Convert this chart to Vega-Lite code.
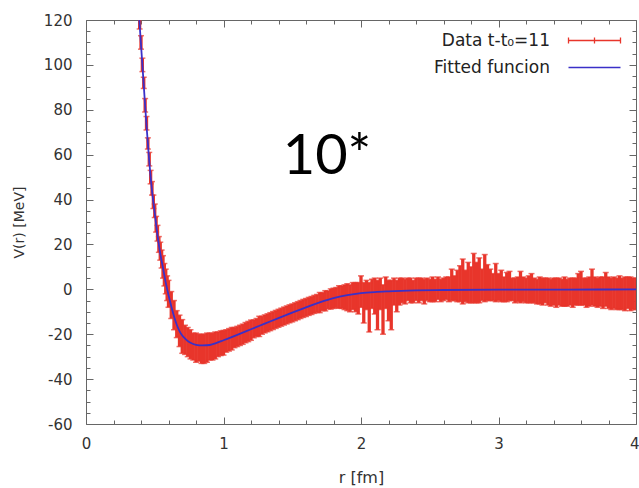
{
  "$schema": "https://vega.github.io/schema/vega-lite/v6.json",
  "width": 550,
  "height": 404,
  "autosize": {"type": "none"},
  "padding": {"left": 86, "top": 20, "right": 3, "bottom": 64},
  "background": "white",
  "config": {
    "view": {"stroke": "#666", "strokeWidth": 1},
    "axis": {"grid": false}
  },
  "datasets": {
    "pts": [
      {"r":0.39,"lo":116,"hi":122},{"r":0.40,"lo":107,"hi":113},{"r":0.41,"lo":97,"hi":103},{"r":0.42,"lo":89.5,"hi":94.5},
      {"r":0.43,"lo":79,"hi":85},{"r":0.44,"lo":71,"hi":77},{"r":0.45,"lo":62.5,"hi":67.5},{"r":0.46,"lo":55,"hi":61},
      {"r":0.47,"lo":47,"hi":53},{"r":0.48,"lo":42,"hi":48},{"r":0.49,"lo":36,"hi":42},{"r":0.50,"lo":32,"hi":38},
      {"r":0.51,"lo":25.5,"hi":32.5},{"r":0.52,"lo":21.5,"hi":28.5},{"r":0.53,"lo":16.5,"hi":23.5},{"r":0.54,"lo":13,"hi":21},
      {"r":0.55,"lo":9.5,"hi":17.5},{"r":0.56,"lo":5,"hi":15},{"r":0.57,"lo":1.5,"hi":11.5},{"r":0.58,"lo":-2,"hi":9},
      {"r":0.59,"lo":-5,"hi":6},{"r":0.60,"lo":-8,"hi":4},
      {"r":0.62,"lo":-13,"hi":-1},{"r":0.64,"lo":-18,"hi":-5},{"r":0.66,"lo":-21.5,"hi":-9.5},{"r":0.68,"lo":-25.5,"hi":-11.5},
      {"r":0.70,"lo":-28.5,"hi":-13.5},{"r":0.72,"lo":-29,"hi":-16},{"r":0.74,"lo":-30,"hi":-17},{"r":0.76,"lo":-31,"hi":-18},
      {"r":0.78,"lo":-31.5,"hi":-19.5},{"r":0.80,"lo":-32.5,"hi":-19.5},{"r":0.82,"lo":-32,"hi":-20},{"r":0.84,"lo":-33,"hi":-20},
      {"r":0.86,"lo":-33,"hi":-20},{"r":0.88,"lo":-32.5,"hi":-19.5},{"r":0.90,"lo":-31.5,"hi":-19.5},{"r":0.92,"lo":-31.5,"hi":-19.5},
      {"r":0.94,"lo":-31,"hi":-19},{"r":0.96,"lo":-30,"hi":-19},{"r":0.98,"lo":-29.5,"hi":-18.5},{"r":1.00,"lo":-29.3,"hi":-18.3},
      {"r":1.02,"lo":-28,"hi":-18},{"r":1.04,"lo":-27.5,"hi":-17.5},{"r":1.06,"lo":-27,"hi":-17},{"r":1.08,"lo":-26,"hi":-17},
      {"r":1.10,"lo":-25.5,"hi":-16.5},{"r":1.12,"lo":-25,"hi":-16},{"r":1.14,"lo":-24.5,"hi":-15.5},{"r":1.16,"lo":-23.8,"hi":-14.8},
      {"r":1.18,"lo":-23.3,"hi":-14.3},{"r":1.20,"lo":-22.7,"hi":-13.7},{"r":1.22,"lo":-21.6,"hi":-13.6},{"r":1.24,"lo":-21,"hi":-13},
      {"r":1.26,"lo":-21,"hi":-12},{"r":1.28,"lo":-20,"hi":-12},{"r":1.30,"lo":-19.4,"hi":-11.4},{"r":1.32,"lo":-18.9,"hi":-10.9},
      {"r":1.34,"lo":-18.4,"hi":-10.4},{"r":1.36,"lo":-17.9,"hi":-9.9},{"r":1.38,"lo":-17.4,"hi":-9.4},{"r":1.40,"lo":-16.9,"hi":-8.9},
      {"r":1.42,"lo":-16.4,"hi":-8.4},{"r":1.44,"lo":-15.9,"hi":-7.9},{"r":1.46,"lo":-15.4,"hi":-7.4},{"r":1.48,"lo":-14.9,"hi":-6.9},
      {"r":1.50,"lo":-14.5,"hi":-6.5},{"r":1.52,"lo":-14,"hi":-6},{"r":1.54,"lo":-13.5,"hi":-5.5},{"r":1.56,"lo":-13,"hi":-5},
      {"r":1.58,"lo":-12.5,"hi":-4.5},{"r":1.60,"lo":-12.1,"hi":-4.1},{"r":1.62,"lo":-11.6,"hi":-3.6},{"r":1.64,"lo":-11.2,"hi":-3.2},
      {"r":1.66,"lo":-10.7,"hi":-2.7},{"r":1.68,"lo":-10.3,"hi":-2.3},{"r":1.70,"lo":-10.4,"hi":-1.4},{"r":1.72,"lo":-9.5,"hi":-1.5},
      {"r":1.74,"lo":-9.6,"hi":-0.6},{"r":1.76,"lo":-8.7,"hi":-0.7},{"r":1.78,"lo":-8.8,"hi":0.2},{"r":1.80,"lo":-8.5,"hi":0.5},
      {"r":1.82,"lo":-8.2,"hi":0.8},{"r":1.84,"lo":-8.4,"hi":1.6},{"r":1.86,"lo":-8.5,"hi":1.5},{"r":1.88,"lo":-9,"hi":2},
      {"r":1.90,"lo":-9.5,"hi":2.5},{"r":1.92,"lo":-10,"hi":2},{"r":1.94,"lo":-9,"hi":3},{"r":1.96,"lo":-10,"hi":3},
      {"r":1.98,"lo":-11,"hi":3},{"r":2.00,"lo":-8,"hi":6},{"r":2.02,"lo":-15,"hi":3},{"r":2.04,"lo":-9,"hi":4},
      {"r":2.06,"lo":-19,"hi":3},{"r":2.08,"lo":-8.5,"hi":4.5},{"r":2.10,"lo":-11,"hi":5},{"r":2.12,"lo":-18,"hi":4},
      {"r":2.14,"lo":-9,"hi":5},{"r":2.16,"lo":-20,"hi":2},{"r":2.18,"lo":-8.5,"hi":5.5},{"r":2.20,"lo":-14,"hi":4},
      {"r":2.22,"lo":-18,"hi":4},{"r":2.24,"lo":-7,"hi":5},{"r":2.26,"lo":-10,"hi":4},{"r":2.28,"lo":-7,"hi":5},
      {"r":2.30,"lo":-6,"hi":5},{"r":2.32,"lo":-6.5,"hi":4.5},{"r":2.34,"lo":-5,"hi":5},{"r":2.36,"lo":-6,"hi":5},
      {"r":2.38,"lo":-6,"hi":4},{"r":2.40,"lo":-5,"hi":5},{"r":2.42,"lo":-6,"hi":5},{"r":2.44,"lo":-5,"hi":5},
      {"r":2.46,"lo":-6.5,"hi":4.5},{"r":2.48,"lo":-5,"hi":5},{"r":2.50,"lo":-5.5,"hi":4.5},{"r":2.52,"lo":-5.5,"hi":5.5},
      {"r":2.54,"lo":-5.5,"hi":4.5},{"r":2.56,"lo":-4.5,"hi":5.5},{"r":2.58,"lo":-5.5,"hi":4.5},{"r":2.60,"lo":-5,"hi":5},
      {"r":2.62,"lo":-4.5,"hi":5.5},{"r":2.64,"lo":-5.5,"hi":5.5},{"r":2.66,"lo":-5,"hi":9},{"r":2.68,"lo":-5,"hi":6},
      {"r":2.70,"lo":-5.5,"hi":8.5},{"r":2.72,"lo":-5.5,"hi":10.5},{"r":2.74,"lo":-6.5,"hi":13.5},{"r":2.76,"lo":-5.5,"hi":8.5},
      {"r":2.78,"lo":-6,"hi":12},{"r":2.80,"lo":-6,"hi":10},{"r":2.82,"lo":-6,"hi":16},{"r":2.84,"lo":-6,"hi":12},
      {"r":2.86,"lo":-6,"hi":14},{"r":2.88,"lo":-5,"hi":9},{"r":2.90,"lo":-5.5,"hi":15.5},{"r":2.92,"lo":-5,"hi":11},
      {"r":2.94,"lo":-5,"hi":9},{"r":2.96,"lo":-5,"hi":7},{"r":2.98,"lo":-5.5,"hi":11.5},{"r":3.00,"lo":-5,"hi":7},
      {"r":3.02,"lo":-5.5,"hi":8.5},{"r":3.04,"lo":-5.5,"hi":5.5},{"r":3.06,"lo":-5.5,"hi":7.5},{"r":3.08,"lo":-5,"hi":8},
      {"r":3.10,"lo":-5,"hi":5},{"r":3.12,"lo":-6,"hi":5},{"r":3.14,"lo":-5.5,"hi":5.5},{"r":3.16,"lo":-6,"hi":8},
      {"r":3.18,"lo":-5.5,"hi":5.5},{"r":3.20,"lo":-6,"hi":5},{"r":3.22,"lo":-6,"hi":6},{"r":3.24,"lo":-6,"hi":7},
      {"r":3.26,"lo":-6,"hi":5},{"r":3.28,"lo":-6.5,"hi":4.5},{"r":3.30,"lo":-6.5,"hi":5.5},{"r":3.32,"lo":-7,"hi":5},
      {"r":3.34,"lo":-6,"hi":5},{"r":3.36,"lo":-7,"hi":5},{"r":3.38,"lo":-7.5,"hi":4.5},{"r":3.40,"lo":-7,"hi":5},
      {"r":3.42,"lo":-8,"hi":5},{"r":3.44,"lo":-7,"hi":5},{"r":3.46,"lo":-7.5,"hi":4.5},{"r":3.48,"lo":-7.5,"hi":5.5},
      {"r":3.50,"lo":-7.5,"hi":4.5},{"r":3.52,"lo":-7,"hi":5},{"r":3.54,"lo":-8,"hi":5},{"r":3.56,"lo":-7,"hi":5},
      {"r":3.58,"lo":-7,"hi":7},{"r":3.60,"lo":-7,"hi":8},{"r":3.62,"lo":-7,"hi":5},{"r":3.64,"lo":-8,"hi":5},
      {"r":3.66,"lo":-7.5,"hi":5.5},{"r":3.68,"lo":-7,"hi":9},{"r":3.70,"lo":-7.5,"hi":5.5},{"r":3.72,"lo":-8,"hi":5},
      {"r":3.74,"lo":-7.5,"hi":5.5},{"r":3.76,"lo":-8.5,"hi":5.5},{"r":3.78,"lo":-7.5,"hi":7.5},{"r":3.80,"lo":-8.5,"hi":5.5},
      {"r":3.82,"lo":-9,"hi":5},{"r":3.84,"lo":-8.5,"hi":5.5},{"r":3.86,"lo":-9,"hi":5},{"r":3.88,"lo":-9,"hi":6},
      {"r":3.90,"lo":-9,"hi":5},{"r":3.92,"lo":-9.5,"hi":5.5},{"r":3.94,"lo":-8.5,"hi":5.5},{"r":3.96,"lo":-9.5,"hi":5.5},
      {"r":3.98,"lo":-9,"hi":5},{"r":4.00,"lo":-9,"hi":5}
    ],
    "fit": [
      {"r":0.388,"v":120},{"r":0.40,"v":109},{"r":0.42,"v":91},{"r":0.44,"v":73},{"r":0.46,"v":57},{"r":0.48,"v":44},
      {"r":0.50,"v":34},{"r":0.52,"v":24},{"r":0.54,"v":16},{"r":0.56,"v":9.5},{"r":0.58,"v":3},{"r":0.60,"v":-2.5},
      {"r":0.62,"v":-7.5},{"r":0.64,"v":-12},{"r":0.66,"v":-15.8},{"r":0.68,"v":-18.6},{"r":0.70,"v":-20.6},{"r":0.73,"v":-22.5},
      {"r":0.76,"v":-23.8},{"r":0.80,"v":-24.7},{"r":0.85,"v":-25},{"r":0.90,"v":-24.8},{"r":0.95,"v":-23.9},{"r":1.00,"v":-22.7},
      {"r":1.10,"v":-20.3},{"r":1.20,"v":-17.8},{"r":1.30,"v":-15.3},{"r":1.40,"v":-12.8},{"r":1.50,"v":-10.4},{"r":1.60,"v":-8.0},
      {"r":1.70,"v":-5.8},{"r":1.80,"v":-3.9},{"r":1.90,"v":-2.6},{"r":2.00,"v":-1.7},{"r":2.10,"v":-1.2},{"r":2.20,"v":-0.9},
      {"r":2.40,"v":-0.5},{"r":2.60,"v":-0.3},{"r":3.00,"v":-0.15},{"r":3.50,"v":-0.1},{"r":4.00,"v":-0.05}
    ],
    "note": [{"x":1.753,"y":51.6,"t":"10*"}]
  },
  "resolve": {"axis": {"x": "independent", "y": "independent"}},
  "layer": [
    {
      "mark": {"type": "rule", "color": "#888888", "strokeWidth": 1},
      "encoding": {"y": {"datum": 0, "type": "quantitative", "scale": {"domain": [-60, 120], "nice": false, "zero": false}, "axis": null}}
    },
    {
      "data": {"name": "pts"},
      "mark": {"type": "rule", "strokeWidth": 3.3, "clip": true},
      "encoding": {
        "x": {"field": "r", "type": "quantitative", "scale": {"domain": [0, 4], "nice": false, "zero": false},
          "axis": {"orient": "bottom", "values": [0, 1, 2, 3, 4], "ticks": false, "tickSize": 0, "domain": false, "grid": false,
            "labelFont": "DejaVu Sans", "labelFontSize": 15, "labelColor": "#333", "labelPadding": 12, "labelFlush": false, "labelOverlap": false,
            "labelAlign": {"condition": {"test": "datum.value === 4", "value": "right"}, "value": "center"},
            "labelOffset": {"condition": {"test": "datum.value === 4", "value": 3}, "value": 0},
            "title": "r [fm]", "titleFont": "DejaVu Sans", "titleFontSize": 16, "titleFontWeight": "normal", "titleColor": "#333", "titlePadding": 18}},
        "y": {"field": "lo", "type": "quantitative", "scale": {"domain": [-60, 120], "nice": false, "zero": false},
          "axis": {"orient": "left", "values": [-60, -40, -20, 0, 20, 40, 60, 80, 100, 120], "ticks": false, "tickSize": 0, "domain": false, "grid": false,
            "labelExpr": "replace(datum.label, '−', '-')",
            "labelFont": "DejaVu Sans", "labelFontSize": 15, "labelColor": "#333", "labelPadding": 14, "labelFlush": false, "labelOverlap": false,
            "title": "V(r) [MeV]", "titleFont": "DejaVu Sans", "titleFontSize": 14, "titleFontWeight": "normal", "titleColor": "#333", "titlePadding": 17}},
        "y2": {"field": "hi"},
        "color": {"datum": "Data t-t₀=11", "type": "nominal",
          "scale": {"domain": ["Data t-t₀=11", "Fitted funcion"], "range": ["#e8352b", "#3a30c8"]},
          "legend": {"orient": "top-right", "offset": 12, "padding": 0, "title": null,
            "labelFont": "DejaVu Sans", "labelFontSize": 17, "labelColor": "#222", "labelLimit": 300,
            "symbolSize": 100, "symbolStrokeWidth": 1.3, "rowPadding": 9,
            "encode": {
              "symbols": {"update": {"shape": {"signal": "datum.value === 'Fitted funcion' ? 'M-5.2,0H5.2' : 'M-5.2,0H5.2M-5.2,-0.6V0.6M5.2,-0.6V0.6M0,-0.6V0.6'"}}},
              "labels": {"update": {"align": {"value": "right"}, "x": {"value": -36}}}
            }}}
      }
    },
    {
      "data": {"name": "pts"},
      "mark": {"type": "tick", "orient": "horizontal", "color": "#e8352b", "size": 6, "thickness": 1.5, "clip": true},
      "encoding": {
        "x": {"field": "r", "type": "quantitative",
          "axis": {"orient": "bottom", "values": [0,0.2,0.4,0.6,0.8,1,1.2,1.4,1.6,1.8,2,2.2,2.4,2.6,2.8,3,3.2,3.4,3.6,3.8,4],
            "labels": false, "domain": false, "grid": false, "title": null, "tickColor": "#666", "tickWidth": 1,
            "tickSize": {"condition": {"test": "abs(datum.value - round(datum.value)) < 0.01", "value": -7}, "value": -4}}},
        "y": {"field": "lo", "type": "quantitative",
          "axis": {"orient": "left", "values": [-60,-55,-50,-45,-40,-35,-30,-25,-20,-15,-10,-5,0,5,10,15,20,25,30,35,40,45,50,55,60,65,70,75,80,85,90,95,100,105,110,115,120],
            "labels": false, "domain": false, "grid": false, "title": null, "tickColor": "#666", "tickWidth": 1,
            "tickSize": {"condition": {"test": "datum.value % 20 === 0", "value": -7}, "value": -4}}}
      }
    },
    {
      "data": {"name": "pts"},
      "mark": {"type": "tick", "orient": "horizontal", "color": "#e8352b", "size": 6, "thickness": 1.5, "clip": true},
      "encoding": {
        "x": {"field": "r", "type": "quantitative",
          "axis": {"orient": "top", "values": [0,0.2,0.4,0.6,0.8,1,1.2,1.4,1.6,1.8,2,2.2,2.4,2.6,2.8,3,3.2,3.4,3.6,3.8,4],
            "labels": false, "domain": false, "grid": false, "title": null, "tickColor": "#666", "tickWidth": 1,
            "tickSize": {"condition": {"test": "abs(datum.value - round(datum.value)) < 0.01", "value": -7}, "value": -4}}},
        "y": {"field": "hi", "type": "quantitative",
          "axis": {"orient": "right", "values": [-60,-55,-50,-45,-40,-35,-30,-25,-20,-15,-10,-5,0,5,10,15,20,25,30,35,40,45,50,55,60,65,70,75,80,85,90,95,100,105,110,115,120],
            "labels": false, "domain": false, "grid": false, "title": null, "tickColor": "#666", "tickWidth": 1,
            "tickSize": {"condition": {"test": "datum.value % 20 === 0", "value": -7}, "value": -4}}}
      }
    },
    {
      "data": {"name": "fit"},
      "mark": {"type": "line", "strokeWidth": 1.8, "interpolate": "monotone", "clip": true},
      "encoding": {
        "x": {"field": "r", "type": "quantitative", "axis": null},
        "y": {"field": "v", "type": "quantitative", "axis": null},
        "color": {"datum": "Fitted funcion", "type": "nominal"}
      }
    },
    {
      "data": {"name": "note"},
      "mark": {"type": "text", "font": "Lato", "fontSize": 56, "align": "center", "baseline": "alphabetic", "color": "#000"},
      "encoding": {
        "x": {"field": "x", "type": "quantitative", "axis": null},
        "y": {"field": "y", "type": "quantitative", "axis": null},
        "text": {"field": "t"}
      }
    }
  ]
}
